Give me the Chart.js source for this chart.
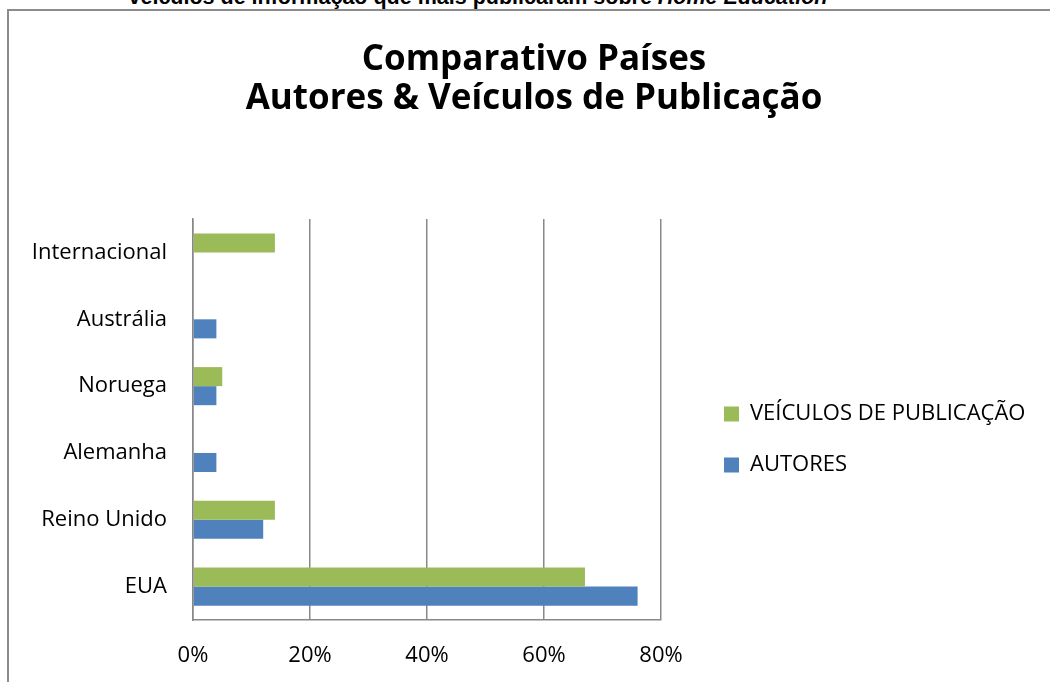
<!DOCTYPE html>
<html>
<head>
<meta charset="utf-8">
<script src="https://cdn.jsdelivr.net/npm/chart.js@4.4.1/dist/chart.umd.min.js"></script>
<style>
  html, body { margin: 0; padding: 0; background: #fff; overflow: hidden; }
  #frame { position: absolute; left: 7px; top: 9px; width: 1200px; height: 800px;
           border-left: 2px solid #8c8c8c; border-top: 2px solid #8c8c8c; }
  #caption { position: absolute; left: 0; top: -13px; width: 956px; text-align: center;
             font: bold 21.5px "Liberation Sans", Arial, sans-serif; line-height: 21px; color: #000; white-space: nowrap; }
  #wrap { position: absolute; left: 0; top: 0; width: 1050px; height: 682px; }
</style>
</head>
<body>
<div id="frame"></div>
<div id="caption">veículos de informação que mais publicaram sobre <i>Home Education</i></div>
<div id="wrap"><canvas id="chart"></canvas></div>
<script>
  // ── Data (top to bottom as drawn) ──────────────────────────
  const paises    = ['Internacional', 'Austrália', 'Noruega', 'Alemanha', 'Reino Unido', 'EUA'];
  const veiculos  = [14, 0, 5, 0, 14, 67];
  const autores   = [0, 4, 4, 4, 12, 76];
  const xTicks    = [0, 20, 40, 60, 80];
  const tituloLinhas = ['Comparativo Países', 'Autores & Veículos de Publicação'];
  const legendas  = ['VEÍCULOS DE PUBLICAÇÃO', 'AUTORES'];

  const FONT  = '"Open Sans", Lato, sans-serif';
  const GRAY  = '#888888';
  const GREEN = '#9BBB59';
  const BLUE  = '#4F81BD';
  const LBL   = 22;

  // legend width, so the legend box starts where the reference has it
  const mctx = document.createElement('canvas').getContext('2d');
  mctx.font = LBL + 'px ' + FONT;
  const legendPad = 29;
  const longest = Math.max(...legendas.map(t => mctx.measureText(t).width));
  const legendW = legendPad + 15 + LBL / 2 + longest + 10;
  const padRight = Math.max(0, 1050 - 695 - legendW);
  const padLeft = 18 + padRight;   // keeps the title centred at x≈534

  new Chart(document.getElementById('chart'), {
    type: 'bar',
    data: {
      labels: paises,
      datasets: [
        { label: legendas[0], data: veiculos, backgroundColor: GREEN, borderWidth: 0 },
        { label: legendas[1], data: autores, backgroundColor: BLUE, borderWidth: 0 },
      ],
    },
    options: {
      indexAxis: 'y',
      responsive: true,
      maintainAspectRatio: false,
      animation: false,
      devicePixelRatio: 1,
      categoryPercentage: 0.57,
      barPercentage: 1,
      layout: { padding: { left: padLeft, right: padRight, top: 0, bottom: 16 } },
      plugins: {
        tooltip: { enabled: false },
        title: {
          display: true,
          text: tituloLinhas,
          color: '#000',
          font: { family: FONT, size: 35, weight: 'bold', lineHeight: 1.13 },
          padding: { top: 40, bottom: 100 },
        },
        legend: {
          position: 'right',
          fullSize: false,
          maxWidth: 420,
          title: { display: true, text: ' ', font: { size: 20 }, padding: 8 },
          labels: {
            color: '#000',
            font: { family: FONT, size: LBL },
            boxWidth: 15,
            boxHeight: 15,
            padding: legendPad,
          },
        },
      },
      scales: {
        x: {
          min: 0,
          max: 80,
          afterBuildTicks: s => { s.ticks = xTicks.map(v => ({ value: v })); },
          afterFit: s => { s.height = 46; },
          ticks: { color: '#000', font: { family: FONT, size: LBL }, padding: 23, callback: v => v + '%' },
          grid: { color: GRAY, lineWidth: 1.5, drawTicks: false },
          border: { color: GRAY, width: 1.5 },
        },
        y: {
          afterFit: s => { s.width = 193 - padLeft; },
          ticks: { color: '#000', font: { family: FONT, size: LBL }, padding: 26 },
          grid: { display: false, drawTicks: false },
          border: { color: GRAY, width: 1.5 },
        },
        gap: {
          type: 'linear',
          position: 'right',
          afterFit: s => { s.width = 34; },
          ticks: { display: false },
          grid: { display: false, drawTicks: false },
          border: { display: false },
        },
      },
    },
  });
</script>
</body>
</html>
